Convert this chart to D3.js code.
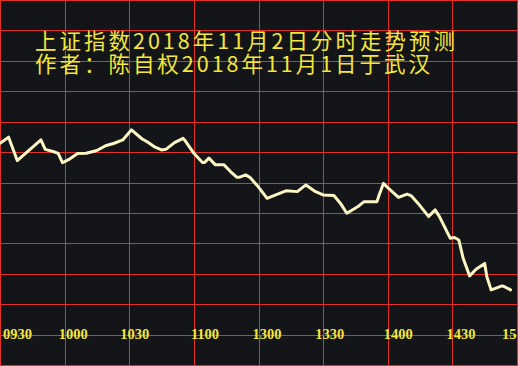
<!DOCTYPE html>
<html>
<head>
<meta charset="utf-8">
<script src="https://cdn.jsdelivr.net/npm/d3@7/dist/d3.min.js"></script>
<style>
  html, body { margin: 0; padding: 0; background: #141518; overflow: hidden; }
  svg { display: block; }
</style>
</head>
<body>
<svg id="chart" width="518" height="366"></svg>
<script>
// ---- data ----
const titleLines = ["上证指数2018年11月2日分时走势预测", "作者：陈自权2018年11月1日于武汉"];
// minute index from 09:30 open (0..240, 11:30/13:00 at 120)
const minutes = [0, 4, 8, 19, 21, 25, 27, 29, 32, 36, 40, 45, 49, 53, 57, 61,
  66, 69, 72, 75, 77, 81, 85, 86, 90, 94, 95, 97, 100, 104, 107, 110, 111, 114, 116, 120,
  124, 128, 133, 138, 142, 146, 150, 155, 158, 161, 166, 169, 175, 176, 178, 180,
  185, 189, 191, 194, 199, 202, 204, 209, 211, 213, 215, 218, 221, 225, 226, 228, 230, 233, 234, 237];
const values = [2612.9, 2614.9, 2607.2, 2614.0, 2610.9, 2610.1, 2609.6, 2606.5, 2607.6, 2609.5, 2609.6, 2610.5, 2612.1, 2612.9, 2614.0, 2617.3,
  2614.3, 2613.1, 2611.6, 2610.7, 2610.9, 2613.1, 2614.5, 2613.7, 2609.6, 2606.6, 2606.6, 2608.0, 2605.8, 2605.8, 2603.6, 2601.7, 2601.7, 2602.5, 2601.7, 2598.5,
  2594.8, 2595.9, 2597.3, 2597.0, 2599.2, 2597.2, 2595.9, 2595.7, 2593.2, 2589.9, 2592.0, 2593.7, 2593.7, 2595.9, 2599.7, 2598.3,
  2595.1, 2596.2, 2595.6, 2593.2, 2588.8, 2591.0, 2588.8, 2581.7, 2581.9, 2581.1, 2575.1, 2569.3, 2571.5, 2573.4, 2569.0, 2564.7, 2565.2, 2566.0, 2565.8, 2564.7];
const tickMinutes = [0, 30, 60, 90, 120, 150, 180, 210, 240];
const tickLabels = ["0930", "1000", "1030", "1100", "1300", "1330", "1400", "1430", "15"];
const yGridValues = [2540, 2550, 2560, 2570, 2580, 2590, 2600, 2610, 2620, 2630, 2640, 2650, 2660];

// ---- drawing ----
const W = 518, H = 366;
const svg = d3.select("#chart");
svg.append("rect").attr("width", W).attr("height", H).attr("fill", "#141518");

const x = d3.scaleLinear().domain([0, 240]).range([0, 517]);
const y = d3.scaleLinear().domain([2540, 2660]).range([365, 0]);
const crisp = v => Math.round(v) + 0.5;

const grid = svg.append("g").attr("stroke", "#e3302b").attr("stroke-width", 1).attr("shape-rendering", "crispEdges");
grid.selectAll("line.v").data(tickMinutes).join("line")
  .attr("class", "v")
  .attr("x1", d => crisp(x(d))).attr("x2", d => crisp(x(d)))
  .attr("y1", 0).attr("y2", H);
grid.selectAll("line.h").data(yGridValues).join("line")
  .attr("class", "h")
  .attr("y1", d => crisp(y(d))).attr("y2", d => crisp(y(d)))
  .attr("x1", 0).attr("x2", W);

// title (one text block, two lines)
svg.append("text")
  .attr("fill", "#f3e63c")
  .attr("font-family", "'Noto Sans CJK SC', sans-serif")
  .attr("font-size", 21.5)
  .selectAll("tspan").data(titleLines).join("tspan")
  .attr("x", 35)
  .attr("y", (d, i) => 49 + i * 23)
  .attr("textLength", (d, i) => i === 0 ? 420 : 395)
  .attr("lengthAdjust", "spacing")
  .text(d => d);

// series line
const pts = minutes.map((m, i) => [m, values[i]]);
const line = d3.line().x(d => x(d[0])).y(d => y(d[1])).curve(d3.curveLinear);
svg.append("path").datum(pts)
  .attr("d", line)
  .attr("fill", "none")
  .attr("stroke", "#fcf5c4")
  .attr("stroke-width", 3)
  .attr("stroke-linejoin", "round")
  .attr("stroke-linecap", "round");

// x axis labels
const labelDx = [3, -6, -9, -3, -6, -8, -4, -6, -15];
svg.append("g").selectAll("text").data(tickMinutes).join("text")
  .attr("x", (d, i) => x(d) + labelDx[i])
  .attr("y", 339)
  .attr("fill", "#f3e63c")
  .attr("font-family", "'Liberation Serif', serif")
  .attr("font-weight", "bold")
  .attr("font-size", 14.5)
  .text((d, i) => tickLabels[i]);
</script>
</body>
</html>
